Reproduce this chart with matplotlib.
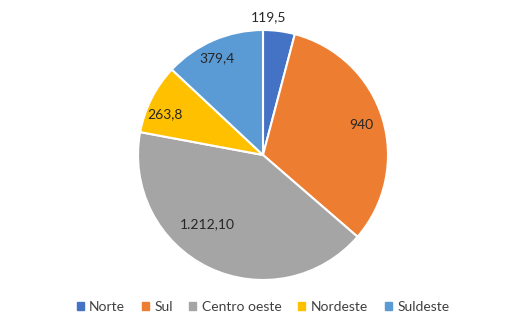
import numpy as np
import matplotlib
matplotlib.use("Agg")
import matplotlib.pyplot as plt
from matplotlib.patches import Rectangle

categories = ["Norte", "Sul", "Centro oeste", "Nordeste", "Suldeste"]
values = [119.5, 940, 1212.10, 263.8, 379.4]
value_labels = ["119,5", "940", "1.212,10", "263,8", "379,4"]

colors = ["#4472C4", "#ED7D31", "#A5A5A5", "#FFC000", "#5B9BD5"]
label_dist = [1.10, 0.82, 0.71, 0.85, 0.86]
label_angle_offset = [5, 0, -13, 4, 2]

plt.rcParams['font.family'] = ['Lato', 'DejaVu Sans']
fig = plt.figure(figsize=(5.26, 3.36), dpi=100)
ax = fig.add_axes([(263 - 125) / 526, (336 - 280) / 336, 250 / 526, 250 / 336])
wedges, _ = ax.pie(values, colors=colors, startangle=90, counterclock=False,
                   wedgeprops=dict(edgecolor="white", linewidth=1.5))
ax.set_aspect("equal")
ax.set_xlim(-1, 1)
ax.set_ylim(-1, 1)

for w, lab, d, off in zip(wedges, value_labels, label_dist, label_angle_offset):
    mid = np.deg2rad((w.theta1 + w.theta2) / 2 + off)
    ax.text(d * np.cos(mid), d * np.sin(mid), lab, ha="center", va="center",
            fontsize=10, color="#262626")

handles = [Rectangle((0, 0), 1, 1, color=c) for c in colors]
fig.legend(handles, categories, loc="center", bbox_to_anchor=(0.5, (336 - 307) / 336),
           ncol=5, frameon=False, handlelength=0.5, handleheight=0.5,
           handletextpad=0.4, columnspacing=1.2, fontsize=10,
           labelcolor="#404040")
fig.savefig("out.png", dpi=100)
